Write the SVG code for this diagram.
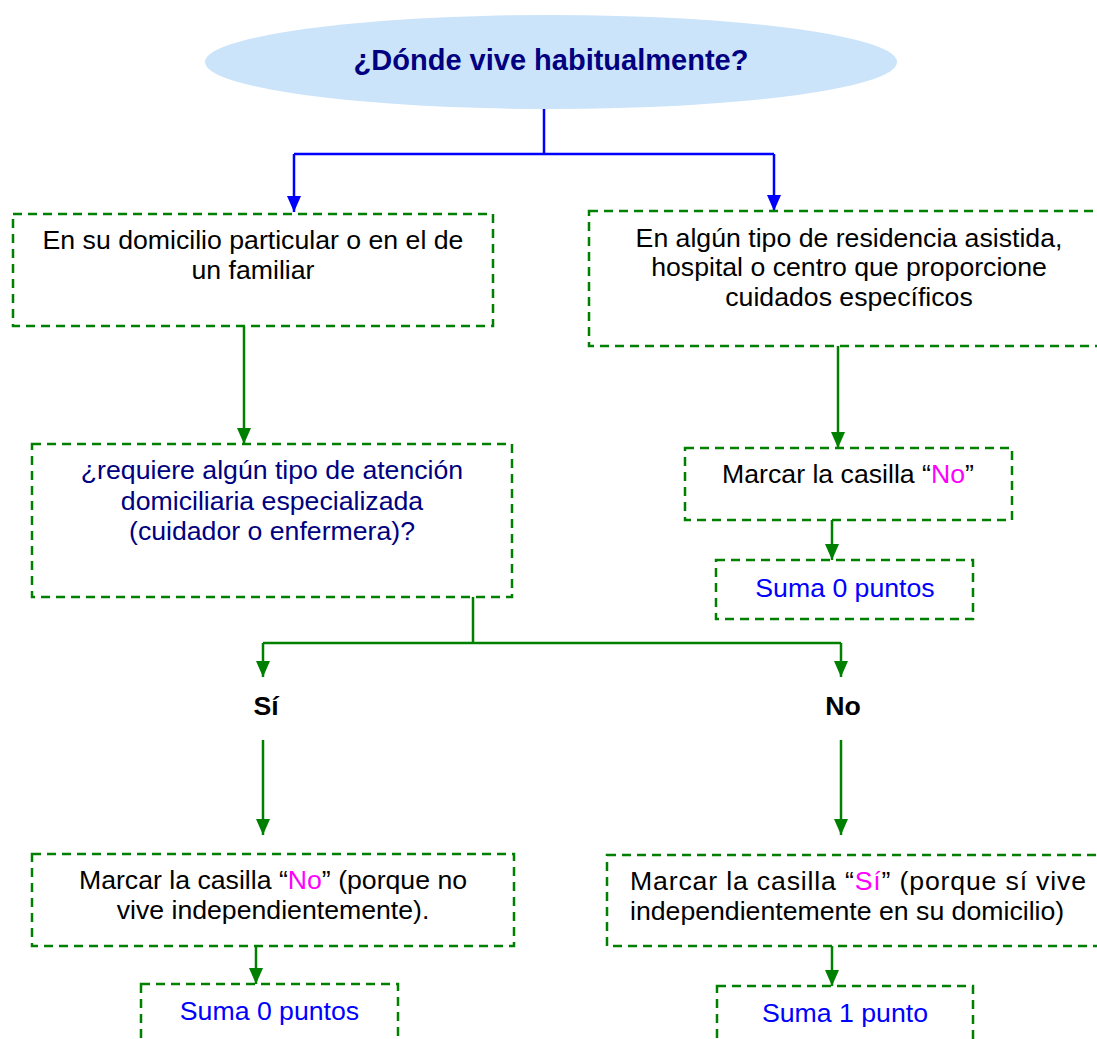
<svg xmlns="http://www.w3.org/2000/svg" width="1097" height="1039" viewBox="0 0 1097 1039">
  <style>
    text { font-family: "Liberation Sans", Arial, sans-serif; font-size: 26.67px; text-anchor: middle; }
    .box { fill: none; stroke: #008000; stroke-width: 2.5; stroke-dasharray: 9 6; }
    .blue-line { fill: none; stroke: #0000ff; stroke-width: 2.5; }
    .green-line { fill: none; stroke: #008000; stroke-width: 2.5; }
    .dark { fill: #000000; }
    .navy { fill: #000080; }
    .pts { fill: #0000ff; }
    .mag { fill: #ff00ff; }
    .bold { font-weight: bold; }
  </style>
  <defs>
    <marker id="arrow-blue" markerUnits="userSpaceOnUse" markerWidth="16" markerHeight="14" refX="16" refY="7" orient="auto">
      <path d="M0,0 L16,7 L0,14 z" fill="#0000ff"/>
    </marker>
    <marker id="arrow-green" markerUnits="userSpaceOnUse" markerWidth="16" markerHeight="14" refX="16" refY="7" orient="auto">
      <path d="M0,0 L16,7 L0,14 z" fill="#008000"/>
    </marker>
  </defs>

  <rect width="1097" height="1039" fill="#ffffff"/>

  <!-- connectors -->
  <g id="connectors">
    <path class="blue-line" d="M544,109 V154"/>
    <path class="blue-line" d="M294,154 H774"/>
    <path class="blue-line" d="M294,154 V212" marker-end="url(#arrow-blue)"/>
    <path class="blue-line" d="M774,154 V211" marker-end="url(#arrow-blue)"/>

    <path class="green-line" d="M244,326 V444" marker-end="url(#arrow-green)"/>
    <path class="green-line" d="M838,346 V448" marker-end="url(#arrow-green)"/>
    <path class="green-line" d="M832,520 V560" marker-end="url(#arrow-green)"/>

    <path class="green-line" d="M473,597 V643"/>
    <path class="green-line" d="M263,643 H841"/>
    <path class="green-line" d="M263,643 V677" marker-end="url(#arrow-green)"/>
    <path class="green-line" d="M841,643 V677" marker-end="url(#arrow-green)"/>

    <path class="green-line" d="M263,740 V835" marker-end="url(#arrow-green)"/>
    <path class="green-line" d="M841,740 V835" marker-end="url(#arrow-green)"/>

    <path class="green-line" d="M256,946 V984" marker-end="url(#arrow-green)"/>
    <path class="green-line" d="M832,946 V986" marker-end="url(#arrow-green)"/>
  </g>

  <!-- question -->
  <g id="title">
    <ellipse cx="551" cy="62" rx="346" ry="47" fill="#cce4fa"/>
    <text x="551" y="70" class="navy bold" style="font-size:29px">¿Dónde vive habitualmente?</text>
  </g>

  <g id="home">
    <rect class="box" x="13" y="214" width="480" height="112"/>
    <text x="253" y="249" class="dark">En su domicilio particular o en el de</text>
    <text x="253" y="279" class="dark">un familiar</text>
  </g>

  <g id="residence">
    <rect class="box" x="589" y="211" width="520" height="135"/>
    <text x="849" y="247" class="dark">En algún tipo de residencia asistida,</text>
    <text x="849" y="276" class="dark">hospital o centro que proporcione</text>
    <text x="849" y="306" class="dark">cuidados específicos</text>
  </g>

  <g id="care-question">
    <rect class="box" x="32" y="444" width="480" height="153"/>
    <text x="272" y="479" class="navy">¿requiere algún tipo de atención</text>
    <text x="272" y="510" class="navy">domiciliaria especializada</text>
    <text x="272" y="540" class="navy">(cuidador o enfermera)?</text>
  </g>

  <g id="mark-no-residence">
    <rect class="box" x="685" y="448" width="327" height="72"/>
    <text x="848" y="483" class="dark">Marcar la casilla “<tspan class="mag">No</tspan>”</text>
  </g>

  <g id="score-0-residence">
    <rect class="box" x="716" y="560" width="257" height="59"/>
    <text x="845" y="597" class="pts">Suma 0 puntos</text>
  </g>

  <g id="label-si">
    <text x="266" y="715" class="dark bold">Sí</text>
  </g>

  <g id="label-no">
    <text x="843" y="715" class="dark bold">No</text>
  </g>

  <g id="mark-no-home">
    <rect class="box" x="32" y="854" width="482" height="92"/>
    <text x="273" y="889" class="dark">Marcar la casilla “<tspan class="mag">No</tspan>” (porque no</text>
    <text x="273" y="919" class="dark">vive independientemente).</text>
  </g>

  <g id="score-0-home">
    <rect class="box" x="141" y="984" width="257" height="70"/>
    <text x="269.5" y="1020" class="pts">Suma 0 puntos</text>
  </g>

  <g id="mark-si-home">
    <rect class="box" x="607" y="855" width="502" height="91"/>
    <text x="630" y="890" class="dark" style="text-anchor:start" textLength="456" lengthAdjust="spacing">Marcar la casilla “<tspan class="mag">Sí</tspan>” (porque sí vive</text>
    <text x="630" y="920" class="dark" style="text-anchor:start">independientemente en su domicilio)</text>
  </g>

  <g id="score-1-home">
    <rect class="box" x="717" y="986" width="256" height="70"/>
    <text x="845" y="1022" class="pts">Suma 1 punto</text>
  </g>
</svg>
